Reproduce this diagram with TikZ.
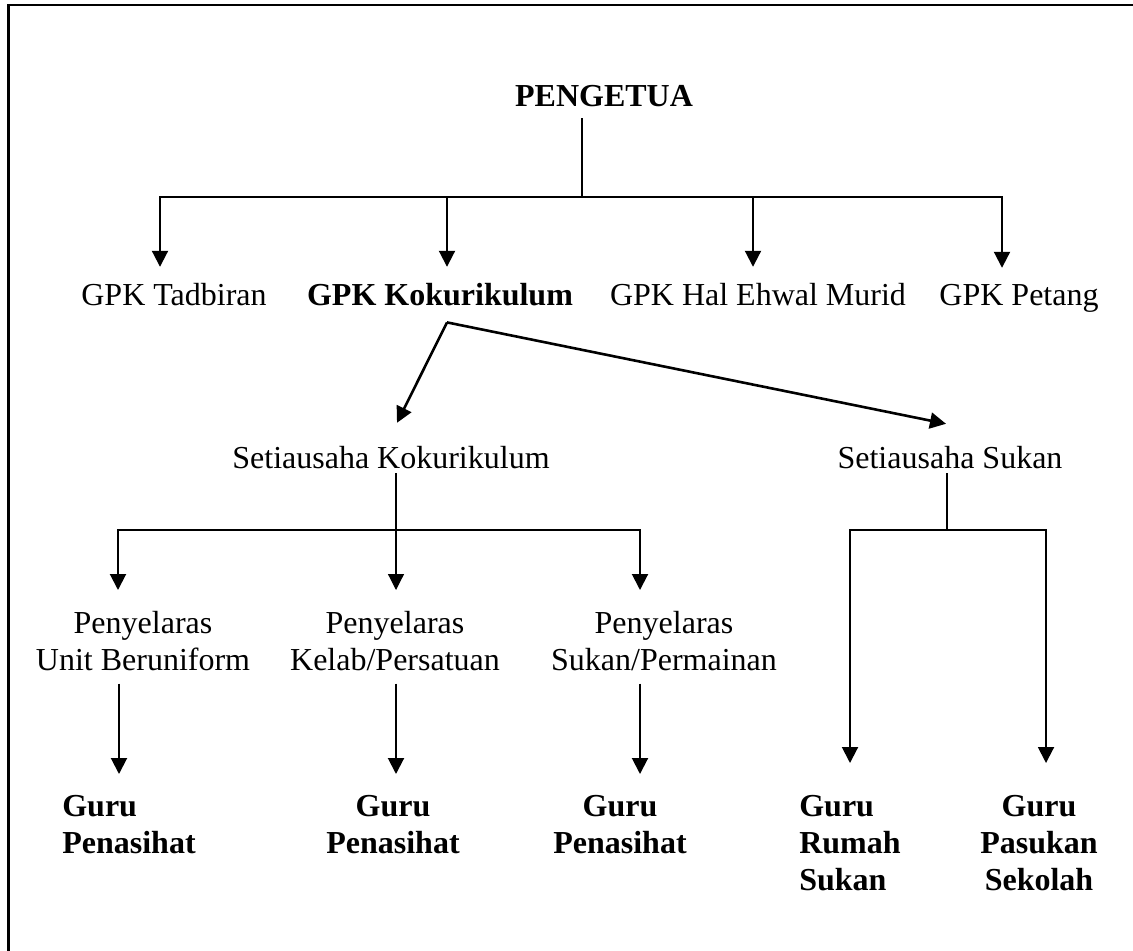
\documentclass[tikz,border=0pt]{standalone}
\usepackage{fontspec}
\setmainfont{Liberation Serif}
\usetikzlibrary{arrows.meta}
\definecolor{drawColor}{RGB}{0,0,0}
\tikzset{
  lbl/.style={inner sep=0pt, outer sep=0pt, anchor=base, text=drawColor, font=\fontsize{16}{18.5}\selectfont},
  lblb/.style={lbl, font=\fontsize{16}{18.5}\selectfont\bfseries},
  link/.style={draw=drawColor, line width=1pt},
  thinlink/.style={draw=drawColor, line width=0.6pt},
  arr/.style={link, -{Triangle[width=8pt,length=8pt]}},
  thinarr/.style={thinlink, -{Triangle[width=8pt,length=8pt]}},
  diagarr/.style={arr, line width=1.3pt}
}
\begin{document}
\begin{tikzpicture}[x=0.5pt,y=0.5pt]
\useasboundingbox (0,0) rectangle (1133,950);
\clip (0,0) rectangle (1133,950);
\draw[link, line width=1.2pt] (8.5,-20) -- (8.5,945) -- (1160,945);

\node[lblb] (pengetua) at (604,843) {PENGETUA};

\node[lbl] (tadbiran) at (174,645) {GPK Tadbiran};
\node[lblb] (koku) at (440,645) {GPK Kokurikulum};
\node[lbl] (hal) at (758,645) {GPK Hal Ehwal Murid};
\node[lbl] (petang) at (1019,645) {GPK Petang};

\node[lbl] (setkoku) at (391,482) {Setiausaha Kokurikulum};
\node[lbl] (setsukan) at (950,482) {Setiausaha Sukan};

\node[lbl, anchor=north, align=center] (pyunit) at (143,339) {Penyelaras\\Unit Beruniform};
\node[lbl, anchor=north, align=center] (pykelab) at (395,339) {Penyelaras\\Kelab/Persatuan};
\node[lbl, anchor=north, align=center] (pysukan) at (664,339) {Penyelaras\\Sukan/Permainan};

\node[lblb, anchor=north, align=left] (guruA) at (129,155) {Guru\\Penasihat};
\node[lblb, anchor=north, align=center] (guruB) at (393,155) {Guru\\Penasihat};
\node[lblb, anchor=north, align=center] (guruC) at (620,155) {Guru\\Penasihat};
\node[lblb, anchor=north, align=left] (guruD) at (850,155) {Guru\\Rumah\\Sukan};
\node[lblb, anchor=north, align=center] (guruE) at (1039,155) {Guru\\Pasukan\\Sekolah};

\coordinate (hub) at (582,753);
\draw[thinlink] (pengetua.south -| hub) ++(0,-11) -- (hub);
\draw[arr] (hub) -| ([xshift=-7pt,yshift=8pt]tadbiran.north);
\draw[arr] (hub) -| ([xshift=3.5pt,yshift=8pt]koku.north);
\draw[arr] (hub) -| ([xshift=-2.5pt,yshift=8pt]hal.north);
\draw[arr] (hub) -| ([xshift=-8.5pt,yshift=8pt]petang.north);

\draw[diagarr] ([xshift=3.5pt,yshift=-8.5pt]koku.south) -- ([xshift=3pt,yshift=11.5pt]setkoku.north);
\draw[diagarr] ([xshift=3.5pt,yshift=-8.5pt]koku.south) -- ([xshift=-2pt,yshift=11pt]setsukan.north);

\coordinate (hubkoku) at (396,420);
\draw[thinlink] ([xshift=2.5pt,yshift=-2.5pt]setkoku.south) -- (hubkoku);
\draw[arr] (hubkoku) -| ([xshift=-12.5pt,yshift=10.5pt]pyunit.north);
\draw[thinarr] (hubkoku) -- ([xshift=0.5pt,yshift=10.5pt]pykelab.north);
\draw[arr] (hubkoku) -| ([xshift=-12pt,yshift=10.5pt]pysukan.north);

\coordinate (hubsukan) at (947,420);
\draw[thinlink] ([xshift=-1.5pt,yshift=-2.5pt]setsukan.south) -- (hubsukan);
\draw[arr] (hubsukan) -| ([yshift=16pt]guruD.north);
\draw[arr] (hubsukan) -| ([xshift=3.5pt,yshift=16pt]guruE.north);

\draw[arr] ([xshift=-12pt,yshift=-6.5pt]pyunit.south) -- ([xshift=-5pt,yshift=10.5pt]guruA.north);
\draw[arr] ([xshift=0.5pt,yshift=-6.5pt]pykelab.south) -- ([xshift=1.5pt,yshift=10.5pt]guruB.north);
\draw[arr] ([xshift=-12pt,yshift=-6.5pt]pysukan.south) -- ([xshift=10pt,yshift=10.5pt]guruC.north);
\end{tikzpicture}
\end{document}
